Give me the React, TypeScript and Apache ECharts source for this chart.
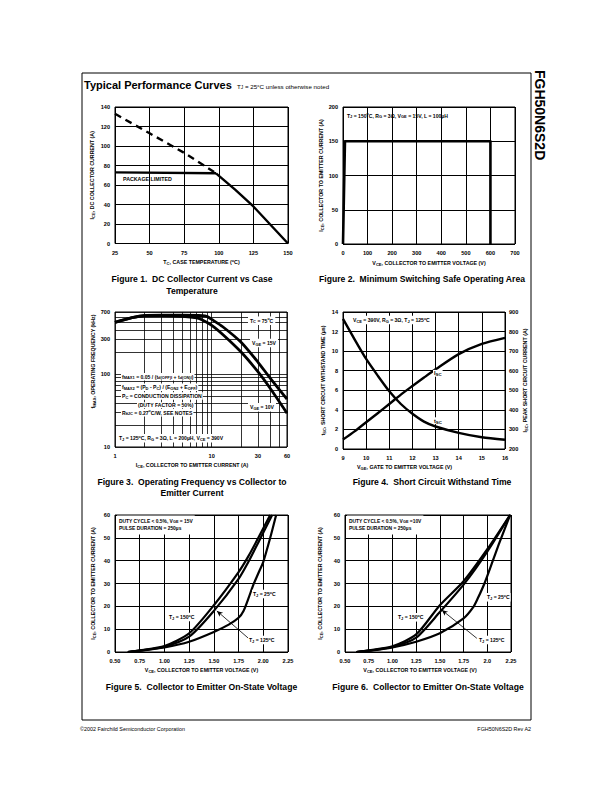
import React, { useEffect, useRef } from "react";
import * as echarts from "echarts";

const FONT = '"Liberation Sans", Arial, Helvetica, sans-serif';

// ---------- Figure 1: DC collector current vs case temperature ----------
const fig1DashT = [25, 50, 75, 98];
const fig1DashI = [133, 113, 93, 72];
const fig1PkgT = [25, 98];
const fig1PkgI = [73, 72];
const fig1ThT = [98, 112, 125, 137.5, 150];
const fig1ThI = [72, 55, 38, 19, 0];

// ---------- Figure 2: switching SOA ----------
const fig2V = [0, 8, 600, 600];
const fig2I = [0, 150, 150, 0];

// ---------- Figure 3: operating frequency (log-log) ----------
const fig3I15 = [1, 1.5, 2, 3, 5, 8, 9, 10, 13, 20, 30, 40, 60];
const fig3F15 = [505, 585, 625, 632, 632, 625, 605, 555, 440, 272, 145, 88, 45];
const fig3I10 = [1, 1.5, 2, 3, 5, 7, 8, 10, 13, 20, 30, 40, 60];
const fig3F10 = [505, 585, 622, 625, 610, 580, 545, 460, 345, 200, 107, 64, 29];
const fig3XGrid = [1, 2, 3, 4, 5, 6, 7, 8, 9, 10, 20, 30, 40, 50, 60];
const fig3XLabels = [1, 10, 30, 60];
const fig3YGrid = [10, 20, 30, 40, 50, 60, 70, 80, 90, 100, 200, 300, 400, 500, 600, 700];
const fig3YLabels = [10, 100, 300, 700];

// ---------- Figure 4: short circuit withstand ----------
const fig4Vge = [9, 9.5, 10, 10.5, 11, 11.5, 12, 12.5, 13, 14, 15, 16];
const fig4Tsc = [13.3, 11.2, 9.2, 7.5, 5.9, 4.6, 3.6, 2.8, 2.3, 1.65, 1.2, 0.95];
const fig4Isc = [248, 290, 337, 383, 430, 478, 522, 565, 607, 685, 737, 768];

// ---------- Figure 5: on-state voltage, VGE = 15V ----------
const fig5V25 = [0.63, 0.75, 1.0, 1.25, 1.5, 1.65, 1.75, 1.8, 1.85, 1.9, 1.95, 2.0, 2.07, 2.13];
const fig5I25 = [0, 0.5, 2.0, 4.5, 8.8, 12, 15, 18, 23.5, 29.5, 34.5, 39.5, 50, 60];
const fig5V125 = [0.63, 0.75, 1.0, 1.25, 1.5, 1.75, 1.85, 1.95, 2.09];
const fig5I125 = [0, 0.6, 2.3, 6.7, 18, 32, 39.5, 48, 60];
const fig5V150 = [0.63, 0.75, 1.0, 1.25, 1.5, 1.75, 1.85, 1.95, 2.07];
const fig5I150 = [0, 0.7, 2.6, 8.2, 20.5, 35, 42, 50, 60];
const fig5Arrow = [[1.85, 6], [1.53, 18]];

// ---------- Figure 6: on-state voltage, VGE = 10V ----------
const fig6V25 = [0.62, 0.75, 1.0, 1.25, 1.5, 1.75, 1.85, 1.9, 1.97, 2.05, 2.12, 2.24];
const fig6I25 = [0, 0.5, 2.0, 4.5, 8.2, 14.7, 19.5, 23.5, 30, 39, 47, 60];
const fig6V125 = [0.62, 0.75, 1.0, 1.25, 1.5, 1.75, 2.0, 2.24];
const fig6I125 = [0, 0.6, 2.2, 6.3, 17.5, 29.5, 44, 60];
const fig6V150 = [0.62, 0.75, 1.0, 1.25, 1.5, 1.75, 2.0, 2.24];
const fig6I150 = [0, 0.7, 2.5, 7.7, 20.5, 31, 45, 60];
const fig6Arrow = [[1.89, 6], [1.52, 18.4]];

// ---------- helpers ----------
function rt(s: string): string {
  let out = "";
  let buf = "";
  let i = 0;
  while (i < s.length) {
    if ((s[i] === "_" || s[i] === "^") && s[i + 1] === "{") {
      const end = s.indexOf("}", i);
      if (buf) {
        out += `{n|${buf}}`;
        buf = "";
      }
      out += `{${s[i] === "_" ? "s" : "p"}|${s.slice(i + 2, end)}}`;
      i = end + 1;
    } else if (s[i] === "\n") {
      if (buf) out += `{n|${buf}}`;
      buf = "";
      out += "\n";
      i++;
    } else {
      buf += s[i];
      i++;
    }
  }
  if (buf) out += `{n|${buf}}`;
  return out;
}

function richStyles(size: number, weight: string = "bold") {
  const base = { fontFamily: FONT, fontWeight: weight, color: "#000" };
  return {
    n: { ...base, fontSize: size },
    s: { ...base, fontSize: size * 0.78, padding: [size * 0.5, 0, 0, 0] },
    p: { ...base, fontSize: size * 0.7, padding: [0, 0, size * 0.5, 0] },
  };
}

const tickLabel = { fontSize: 5.6, fontWeight: "bold", color: "#000", fontFamily: FONT };

function axis(o: any) {
  return {
    type: "value",
    gridIndex: o.grid,
    min: o.min,
    max: o.max,
    interval: o.interval,
    position: o.position,
    axisLine: { show: false },
    axisTick: { show: false, customValues: o.tickValues },
    splitLine: { show: true, lineStyle: { color: "#000", width: o.lw ?? 1 } },
    axisLabel: {
      ...tickLabel,
      margin: o.margin ?? 5,
      formatter: o.fmt,
      customValues: o.labelValues,
      showMinLabel: true,
      showMaxLabel: true,
      hideOverlap: false,
    },
    name: o.name ? rt(o.name) : "",
    nameLocation: "middle",
    nameGap: o.nameGap ?? 15,
    nameRotate: o.rotate,
    nameTextStyle: { rich: richStyles(5.3), padding: o.namePad ?? 0 },
  };
}

function line(xi: number, yi: number, xs: number[], ys: number[], width: number, extra: any = {}) {
  return {
    type: "line",
    xAxisIndex: xi,
    yAxisIndex: yi,
    data: xs.map((x, i) => [x, ys[i]]),
    showSymbol: false,
    symbol: "none",
    silent: true,
    itemStyle: { color: "#000" },
    lineStyle: { color: "#000", width, cap: "butt", join: "round", ...(extra.lineStyle || {}) },
    smooth: extra.smooth ?? false,
    markLine: extra.markLine,
    z: 5,
  };
}

function arrowMark(a: number[][]) {
  return {
    silent: true,
    symbol: ["none", "arrow"],
    symbolSize: [4, 6],
    lineStyle: { color: "#000", width: 0.8, type: "solid" },
    label: { show: false },
    data: [[{ coord: a[0] }, { coord: a[1] }]],
  };
}

function txt(x: number, y: number, s: string, size: number, o: any = {}) {
  return {
    type: "text",
    x,
    y,
    z: 50,
    rotation: o.rot ?? 0,
    style: {
      text: rt(s),
      rich: richStyles(size, o.weight ?? "bold"),
      align: o.align ?? "left",
      textAlign: o.align ?? "left",
      verticalAlign: "middle",
      textVerticalAlign: "middle",
      backgroundColor: o.bg,
      padding: o.pad,
      lineHeight: o.lh,
    },
  };
}

const L10 = (v: number) => Math.log10(v);
const pow10Fmt = (v: number) => String(Math.round(Math.pow(10, v)));

function buildOption() {
  const grids = [
    { left: 115, top: 107, width: 173, height: 136.5 },
    { left: 343, top: 107, width: 172, height: 137 },
    { left: 115, top: 312, width: 172, height: 135 },
    { left: 343, top: 312, width: 162, height: 137 },
    { left: 115, top: 515, width: 173, height: 137 },
    { left: 345, top: 515, width: 166, height: 137 },
  ].map((g) => ({ ...g, show: true, borderColor: "#000", borderWidth: 1, backgroundColor: "transparent", containLabel: false }));

  const xAxes = [
    axis({ grid: 0, min: 25, max: 150, interval: 25, name: "T_{C}, CASE TEMPERATURE (^{o}C)", nameGap: 15.5, margin: 6 }),
    axis({ grid: 1, min: 0, max: 700, interval: 100, name: "V_{CE}, COLLECTOR TO EMITTER VOLTAGE (V)", nameGap: 15.5, margin: 6 }),
    axis({
      grid: 2, min: 0, max: L10(60), tickValues: fig3XGrid.map(L10), labelValues: fig3XLabels.map(L10), fmt: pow10Fmt,
      name: "I_{CE}, COLLECTOR TO EMITTER CURRENT (A)", nameGap: 15, margin: 6, namePad: [0, 18, 0, 0], lw: 0.8,
    }),
    axis({ grid: 3, min: 9, max: 16, interval: 1, name: "V_{GE}, GATE TO EMITTER VOLTAGE (V)", nameGap: 14.5, margin: 6, namePad: [0, 39, 0, 0] }),
    axis({ grid: 4, min: 0.5, max: 2.25, interval: 0.25, fmt: (v: number) => v.toFixed(2), name: "V_{CE}, COLLECTOR TO EMITTER VOLTAGE (V)", nameGap: 14.5, margin: 6 }),
    axis({ grid: 5, min: 0.5, max: 2.25, interval: 0.25, fmt: (v: number) => (Math.abs(v - 2) < 1e-9 ? "2.0" : v.toFixed(2)), name: "V_{CE}, COLLECTOR TO EMITTER VOLTAGE (V)", nameGap: 14.5, margin: 6, namePad: [0, 16, 0, 0] }),
  ];

  const yAxes = [
    axis({ grid: 0, min: 0, max: 140, interval: 20, name: "I_{CE}, DC COLLECTOR CURRENT (A)", nameGap: 20, rotate: 90 }),
    axis({ grid: 1, min: 0, max: 200, interval: 50, name: "I_{CE}, COLLECTOR TO EMITTER CURRENT (A)", nameGap: 16, rotate: 90 }),
    axis({
      grid: 2, min: 1, max: L10(700), tickValues: fig3YGrid.map(L10), labelValues: fig3YLabels.map(L10), fmt: pow10Fmt,
      name: "f_{MAX}, OPERATING FREQUENCY (kHz)", nameGap: 13, rotate: 90, namePad: [0, 0, 0, 36], lw: 0.8,
    }),
    axis({ grid: 3, min: 0, max: 14, interval: 2, name: "t_{SC}, SHORT CIRCUIT WITHSTAND TIME (µs)", nameGap: 17, rotate: 90 }),
    axis({ grid: 3, min: 200, max: 900, interval: 100, position: "right", name: "I_{SC}, PEAK SHORT CIRCUIT CURRENT (A)", nameGap: 14, rotate: 90, margin: 4 }),
    axis({ grid: 4, min: 0, max: 60, interval: 10, name: "I_{CE}, COLLECTOR TO EMITTER CURRENT (A)", nameGap: 18.5, rotate: 90 }),
    axis({ grid: 5, min: 0, max: 60, interval: 10, name: "I_{CE}, COLLECTOR TO EMITTER CURRENT (A)", nameGap: 22, rotate: 90 }),
  ];
  // right axis of figure 4: no extra split lines
  (yAxes[4] as any).splitLine = { show: false };

  const S = 0.25;
  const series = [
    line(0, 0, fig1DashT, fig1DashI, 2.4, { lineStyle: { type: [7, 5] } }),
    line(0, 0, fig1PkgT, fig1PkgI, 2.4),
    line(0, 0, fig1ThT, fig1ThI, 2.4),
    line(1, 1, fig2V, fig2I, 2.6),
    line(2, 2, fig3I15.map(L10), fig3F15.map(L10), 2.8, { smooth: S }),
    line(2, 2, fig3I10.map(L10), fig3F10.map(L10), 2.8, { smooth: S }),
    line(3, 3, fig4Vge, fig4Tsc, 2.4, { smooth: S }),
    line(3, 4, fig4Vge, fig4Isc, 2.4, { smooth: S }),
    line(4, 5, fig5V25, fig5I25, 2.2, { smooth: S }),
    line(4, 5, fig5V125, fig5I125, 2.2, { smooth: S, markLine: arrowMark(fig5Arrow) }),
    line(4, 5, fig5V150, fig5I150, 2.2, { smooth: S }),
    line(5, 6, fig6V25, fig6I25, 2.2, { smooth: S }),
    line(5, 6, fig6V125, fig6I125, 2.2, { smooth: S, markLine: arrowMark(fig6Arrow) }),
    line(5, 6, fig6V150, fig6I150, 2.2, { smooth: S }),
  ];

  const W = "#fff";
  const graphic = [
    {
      type: "rect",
      z: 1,
      shape: { x: 82, y: 73, width: 449, height: 647 },
      style: { fill: "none", stroke: "#000", lineWidth: 1 },
    },
    txt(84, 84.5, "Typical Performance Curves", 11),
    txt(237, 86, "T_{J} = 25°C unless otherwise noted", 6.2, { weight: "normal" }),
    txt(540, 70, "FGH50N6S2D", 14, { rot: -Math.PI / 2 }),
    txt(80, 729, "©2002 Fairchild Semiconductor Corporation", 5.4, { weight: "normal" }),
    txt(531, 729, "FGH50N6S2D Rev A2", 5.4, { weight: "normal", align: "right" }),

    // captions
    txt(192, 279, "Figure 1.  DC Collector Current vs Case", 8.6, { align: "center" }),
    txt(192, 291, "Temperature", 8.6, { align: "center" }),
    txt(422, 279, "Figure 2.  Minimum Switching Safe Operating Area", 8.6, { align: "center" }),
    txt(192, 482, "Figure 3.  Operating Frequency vs Collector to", 8.6, { align: "center" }),
    txt(192, 493, "Emitter Current", 8.6, { align: "center" }),
    txt(432, 482, "Figure 4.  Short Circuit Withstand Time", 8.6, { align: "center" }),
    txt(201.5, 687, "Figure 5.  Collector to Emitter On-State Voltage", 8.6, { align: "center" }),
    txt(428, 687, "Figure 6.  Collector to Emitter On-State Voltage", 8.6, { align: "center" }),

    // figure 1
    txt(123, 179, "PACKAGE LIMITED", 5.3),
    // figure 2
    txt(347, 115.7, "T_{J} = 150^{o}C, R_{G} = 3Ω, V_{GE} = 15V, L = 100µH", 5.1),
    // figure 3
    txt(248, 320.7, "T_{C} = 75^{o}C", 5.1, { bg: W, pad: [1, 2, 1, 2] }),
    txt(250, 343, "V_{GE} = 15V", 5.1, { bg: W, pad: [1, 2, 1, 2] }),
    txt(121, 376.7, "f_{MAX1} = 0.05 / (t_{d(OFF)I} + t_{d(ON)I})", 5.1, { bg: W, pad: [0.5, 1, 0.5, 1] }),
    txt(121, 387.3, "f_{MAX2} = (P_{D} - P_{C}) / (E_{ON2} + E_{OFF})", 5.1, { bg: W, pad: [0.5, 1, 0.5, 1] }),
    txt(121, 396, "P_{C} = CONDUCTION DISSIPATION", 5.1, { bg: W, pad: [0.5, 1, 0.5, 1] }),
    txt(137, 405.3, "(DUTY FACTOR = 50%)", 5.1, { bg: W, pad: [0.5, 1, 0.5, 1] }),
    txt(121, 412.7, "R_{θJC} = 0.27^{o}C/W, SEE NOTES", 5.1, { bg: W, pad: [0.5, 1, 0.5, 1] }),
    txt(248, 407.3, "V_{GE} = 10V", 5.1, { bg: W, pad: [1, 2, 1, 2] }),
    txt(118, 438.3, "T_{J} = 125^{o}C, R_{G} = 3Ω, L = 200µH, V_{CE} = 390V", 5.1, { bg: W, pad: [1, 1, 1, 1] }),
    // figure 4
    txt(352, 320, "V_{CE} = 390V, R_{G} = 3Ω, T_{J} = 125^{o}C", 5.1, { bg: W, pad: [1, 1, 1, 1] }),
    txt(433, 373.3, "I_{SC}", 5.6, { bg: W, pad: [0, 1, 0, 1] }),
    txt(433, 420.7, "t_{SC}", 5.6, { bg: W, pad: [0, 1, 0, 1] }),
    // figure 5
    txt(117, 525, "DUTY CYCLE < 0.5%, V_{GE} = 15V\nPULSE DURATION = 250µs", 4.9, { bg: W, pad: [2, 2, 2, 2], lh: 7.5 }),
    txt(252, 594, "T_{J} = 25^{o}C", 5.1, { bg: W, pad: [1, 1, 1, 1] }),
    txt(168, 617, "T_{J} = 150^{o}C", 5.1, { bg: W, pad: [1, 1, 1, 1] }),
    txt(248, 640, "T_{J} = 125^{o}C", 5.1, { bg: W, pad: [1, 1, 1, 1] }),
    // figure 6
    txt(347, 525, "DUTY CYCLE < 0.5%, V_{GE} =10V\nPULSE DURATION = 250µs", 4.9, { bg: W, pad: [2, 2, 2, 2], lh: 7.5 }),
    txt(486, 597.3, "T_{J} = 25^{o}C", 5.1, { bg: W, pad: [1, 1, 1, 1] }),
    txt(397, 617.3, "T_{J} = 150^{o}C", 5.1, { bg: W, pad: [1, 1, 1, 1] }),
    txt(478, 640, "T_{J} = 125^{o}C", 5.1, { bg: W, pad: [1, 1, 1, 1] }),
  ];

  return {
    animation: false,
    backgroundColor: "#fff",
    textStyle: { fontFamily: FONT },
    grid: grids,
    xAxis: xAxes,
    yAxis: yAxes,
    series,
    graphic,
  };
}

export default function App() {
  const ref = useRef<HTMLDivElement>(null);
  useEffect(() => {
    if (!ref.current) return;
    const chart = echarts.init(ref.current, null, { renderer: "svg", width: 611, height: 792 });
    chart.setOption(buildOption() as any);
    return () => chart.dispose();
  }, []);
  return (
    <div
      ref={ref}
      style={{ position: "absolute", left: 0, top: 0, width: 611, height: 792, background: "#fff" }}
    />
  );
}
